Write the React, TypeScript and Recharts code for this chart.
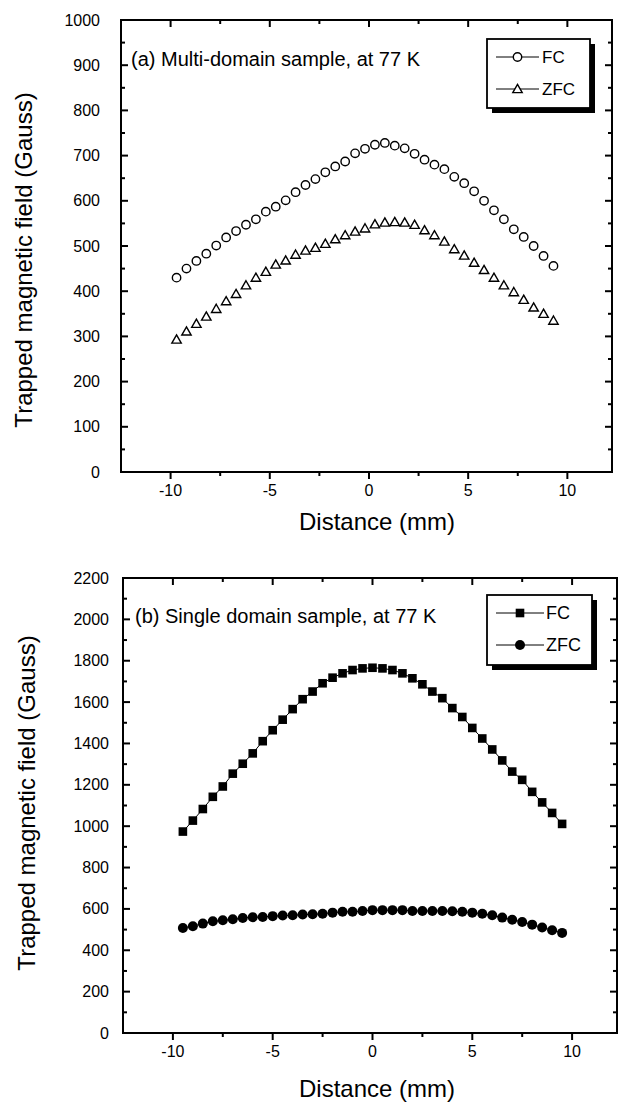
import React from 'react';
import { ScatterChart, Scatter, XAxis, YAxis, ReferenceArea, ReferenceLine, Legend, Label } from 'recharts';

const FONT = '"Liberation Sans", Arial, Helvetica, sans-serif';
const INK = '#000';

// (a) multi-domain sample, 77 K
const distanceA = [
  -9.7, -9.2, -8.7, -8.2, -7.7, -7.2, -6.7, -6.2, -5.7, -5.2, -4.7, -4.2, -3.7,
  -3.2, -2.7, -2.2, -1.7, -1.2, -0.7, -0.2, 0.3, 0.8, 1.3, 1.8, 2.3, 2.8,
  3.3, 3.8, 4.3, 4.8, 5.3, 5.8, 6.3, 6.8, 7.3, 7.8, 8.3, 8.8, 9.3,
];
const fcA = [
  430, 450, 467, 483, 501, 519, 533, 547, 559, 576, 587, 601, 619,
  635, 648, 663, 676, 687, 705, 715, 724, 728, 722, 716, 704, 691,
  680, 670, 653, 639, 621, 600, 579, 559, 537, 520, 500, 478, 456,
];
const zfcA = [
  293, 311, 328, 344, 361, 378, 394, 413, 430, 443, 459, 468, 481,
  490, 496, 505, 515, 524, 532, 539, 548, 552, 553, 552, 547, 535,
  524, 510, 493, 479, 463, 447, 430, 413, 398, 381, 364, 350, 335,
];

// (b) single domain sample, 77 K
const distanceB = [
  -9.5, -9, -8.5, -8, -7.5, -7, -6.5, -6, -5.5, -5, -4.5, -4, -3.5,
  -3, -2.5, -2, -1.5, -1, -0.5, 0, 0.5, 1, 1.5, 2, 2.5, 3,
  3.5, 4, 4.5, 5, 5.5, 6, 6.5, 7, 7.5, 8, 8.5, 9, 9.5,
];
const fcB = [
  974, 1027, 1083, 1142, 1192, 1254, 1302, 1352, 1411, 1464, 1515, 1566, 1614,
  1651, 1691, 1718, 1739, 1755, 1763, 1766, 1763, 1755, 1739, 1715, 1686, 1651,
  1619, 1571, 1528, 1475, 1424, 1371, 1318, 1264, 1224, 1166, 1115, 1064, 1011,
];
const zfcB = [
  508, 516, 529, 540, 545, 550, 556, 560, 561, 565, 568, 569, 573,
  574, 577, 582, 586, 586, 590, 594, 594, 594, 594, 590, 590, 590,
  590, 589, 586, 582, 577, 569, 558, 548, 537, 524, 510, 497, 484,
];

const xTicks = [-10, -7.5, -5, -2.5, 0, 2.5, 5, 7.5, 10];
const xLabels = [-10, -5, 0, 5, 10];
const yTicksA = [0, 50, 100, 150, 200, 250, 300, 350, 400, 450, 500, 550, 600, 650, 700, 750, 800, 850, 900, 950, 1000];
const yLabelsA = [0, 100, 200, 300, 400, 500, 600, 700, 800, 900, 1000];
const yTicksB = [0, 100, 200, 300, 400, 500, 600, 700, 800, 900, 1000, 1100, 1200, 1300, 1400, 1500, 1600, 1700, 1800, 1900, 2000, 2100, 2200];
const yLabelsB = [0, 200, 400, 600, 800, 1000, 1200, 1400, 1600, 1800, 2000, 2200];

const X_DOMAIN: [number, number] = [-12.5, 12.25];

const toPoints = (xs: number[], ys: number[]) => xs.map((x, i) => ({ x, y: ys[i] }));

// tick labels only; the tick marks are drawn by ReferenceLine shapes below
const makeXLabel = (labels: number[]) => (props: any) => {
  const { x, y, payload } = props;
  if (!labels.includes(payload.value)) return <g />;
  return (
    <text x={x} y={y + 24} textAnchor="middle" fontSize={16} fontFamily={FONT} fill={INK}>
      {payload.value}
    </text>
  );
};

const makeYLabel = (labels: number[], gap: number) => (props: any) => {
  const { y, payload } = props;
  if (!labels.includes(payload.value)) return <g />;
  return (
    <text x={props.x - gap} y={y + 5.5} textAnchor="end" fontSize={16} fontFamily={FONT} fill={INK}>
      {payload.value}
    </text>
  );
};

// x ticks: outward at the bottom, inward at the top
const xTickMark = (len: number) => (p: any) => {
  const yb = Math.max(p.y1, p.y2);
  const yt = Math.min(p.y1, p.y2);
  return (
    <g>
      <path d={`M${p.x1},${yb} V${yb + len}`} stroke={INK} strokeWidth={2} fill="none" />
      <path d={`M${p.x1},${yt} V${yt + len}`} stroke={INK} strokeWidth={2} fill="none" />
    </g>
  );
};

// y ticks: inward on both sides
const yTickMark = (len: number) => (p: any) => {
  const xl = Math.min(p.x1, p.x2);
  const xr = Math.max(p.x1, p.x2);
  return (
    <g>
      <path d={`M${xl},${p.y1} H${xl + len}`} stroke={INK} strokeWidth={2} fill="none" />
      <path d={`M${xr},${p.y1} H${xr - len}`} stroke={INK} strokeWidth={2} fill="none" />
    </g>
  );
};

const OpenCircle = (p: any) => <circle cx={p.cx} cy={p.cy} r={4.2} fill="#fff" stroke={INK} strokeWidth={1.4} />;
const OpenTriangle = (p: any) => (
  <path
    d={`M${p.cx},${p.cy - 4.6} L${p.cx + 4.7},${p.cy + 3.6} L${p.cx - 4.7},${p.cy + 3.6} Z`}
    fill="#fff"
    stroke={INK}
    strokeWidth={1.4}
  />
);
const FilledSquare = (p: any) => <rect x={p.cx - 4.3} y={p.cy - 4.3} width={8.6} height={8.6} fill={INK} />;
const FilledCircle = (p: any) => <circle cx={p.cx} cy={p.cy} r={5} fill={INK} />;

const markerFor = (name: string, filled: boolean, cx: number, cy: number) => {
  if (filled) return name === 'FC' ? <FilledSquare cx={cx} cy={cy} /> : <FilledCircle cx={cx} cy={cy} />;
  return name === 'FC' ? <OpenCircle cx={cx} cy={cy} /> : <OpenTriangle cx={cx} cy={cy} />;
};

// boxed legend with a drop shadow, like Origin draws it
const makeLegend = (filled: boolean, w: number, h: number, fontSize: number, lineEnd: number, textX: number) => (props: any) => {
  const { payload } = props;
  return (
    <svg width={w + 8} height={h + 8} style={{ display: 'block' }}>
      <rect x={6} y={6} width={w} height={h} fill={INK} />
      <rect x={1} y={1} width={w} height={h} fill="#fff" stroke={INK} strokeWidth={1.8} />
      {(payload || []).map((entry: any, i: number) => {
        const cy = 19 + i * 32;
        const mid = (10 + lineEnd) / 2;
        return (
          <g key={entry.value}>
            <line x1={10} x2={lineEnd} y1={cy} y2={cy} stroke={INK} strokeWidth={1} />
            {markerFor(entry.value, filled, mid, cy)}
            <text x={textX} y={cy + fontSize * 0.36} fontSize={fontSize} fontFamily={FONT} fill={INK}>
              {entry.value}
            </text>
          </g>
        );
      })}
    </svg>
  );
};

const yTitle = (cx: number, cy: number) => () => (
  <text transform={`translate(${cx},${cy}) rotate(-90)`} textAnchor="middle" fontSize={24} fontFamily={FONT} fill={INK}>
    Trapped magnetic field (Gauss)
  </text>
);

const xTitle = (cy: number) => () => (
  <text x={377} y={cy} textAnchor="middle" fontSize={24} fontFamily={FONT} fill={INK}>
    Distance (mm)
  </text>
);

const inset = (text: string, x: number, y: number) => () => (
  <text x={x} y={y} fontSize={20} fontFamily={FONT} fill={INK}>
    {text}
  </text>
);

const tickLines = (xs: number[], xMajor: number[], ys: number[], yMajor: number[]) => [
  ...xs.map((v) => (
    <ReferenceLine key={`x${v}`} x={v} shape={xTickMark(xMajor.includes(v) ? 7 : 4)} />
  )),
  ...ys.map((v) => (
    <ReferenceLine key={`y${v}`} y={v} shape={yTickMark(yMajor.includes(v) ? 7 : 4)} />
  )),
];

export default function App() {
  return (
    <div
      style={{
        position: 'absolute',
        left: 0,
        top: 0,
        width: 620,
        height: 1104,
        background: '#fff',
        fontFamily: FONT,
      }}
    >
      <ScatterChart width={620} height={540} margin={{ top: 20, right: 8, bottom: 0, left: 0 }}>
        <XAxis
          type="number"
          dataKey="x"
          domain={X_DOMAIN}
          ticks={xTicks}
          interval={0}
          height={68}
          axisLine={false}
          tickLine={false}
          tickSize={0}
          tickMargin={0}
          allowDataOverflow
          tick={makeXLabel(xLabels)}
          label={<Label content={xTitle(530)} />}
        />
        <YAxis
          type="number"
          dataKey="y"
          domain={[0, 1000]}
          ticks={yTicksA}
          interval={0}
          width={121}
          axisLine={false}
          tickLine={false}
          tickSize={0}
          tickMargin={0}
          allowDataOverflow
          tick={makeYLabel(yLabelsA, 21)}
          label={<Label content={yTitle(32, 260)} />}
        />
        <ReferenceArea
          x1={X_DOMAIN[0]}
          x2={X_DOMAIN[1]}
          y1={0}
          y2={1000}
          fill="none"
          fillOpacity={0}
          stroke={INK}
          strokeWidth={2}
          label={<Label content={inset('(a) Multi-domain sample, at 77 K', 131, 66)} />}
        />
        {tickLines(xTicks, xLabels, yTicksA, yLabelsA)}
        <Scatter name="FC" data={toPoints(distanceA, fcA)} shape={OpenCircle} isAnimationActive={false} />
        <Scatter name="ZFC" data={toPoints(distanceA, zfcA)} shape={OpenTriangle} isAnimationActive={false} />
        <Legend
          layout="vertical"
          align="center"
          verticalAlign="middle"
          content={makeLegend(false, 103, 69, 17, 53, 56)}
          wrapperStyle={{ left: 486, top: 38, width: 112, height: 78 }}
        />
      </ScatterChart>

      <ScatterChart width={620} height={564} margin={{ top: 38, right: 3, bottom: 0, left: 0 }}>
        <XAxis
          type="number"
          dataKey="x"
          domain={X_DOMAIN}
          ticks={xTicks}
          interval={0}
          height={71}
          axisLine={false}
          tickLine={false}
          tickSize={0}
          tickMargin={0}
          allowDataOverflow
          tick={makeXLabel(xLabels)}
          label={<Label content={xTitle(557)} />}
        />
        <YAxis
          type="number"
          dataKey="y"
          domain={[0, 2200]}
          ticks={yTicksB}
          interval={0}
          width={123}
          axisLine={false}
          tickLine={false}
          tickSize={0}
          tickMargin={0}
          allowDataOverflow
          tick={makeYLabel(yLabelsB, 14)}
          label={<Label content={yTitle(35, 263)} />}
        />
        <ReferenceArea
          x1={X_DOMAIN[0]}
          x2={X_DOMAIN[1]}
          y1={0}
          y2={2200}
          fill="none"
          fillOpacity={0}
          stroke={INK}
          strokeWidth={2}
          label={<Label content={inset('(b) Single domain sample, at 77 K', 135, 83)} />}
        />
        {tickLines(xTicks, xLabels, yTicksB, yLabelsB)}
        <Scatter
          name="FC"
          data={toPoints(distanceB, fcB)}
          shape={FilledSquare}
          line={{ stroke: INK, strokeWidth: 1 }}
          isAnimationActive={false}
        />
        <Scatter
          name="ZFC"
          data={toPoints(distanceB, zfcB)}
          shape={FilledCircle}
          line={{ stroke: INK, strokeWidth: 1 }}
          isAnimationActive={false}
        />
        <Legend
          layout="vertical"
          align="center"
          verticalAlign="middle"
          content={makeLegend(true, 105, 70, 18, 58, 60)}
          wrapperStyle={{ left: 486, top: 54, width: 114, height: 79 }}
        />
      </ScatterChart>
    </div>
  );
}
